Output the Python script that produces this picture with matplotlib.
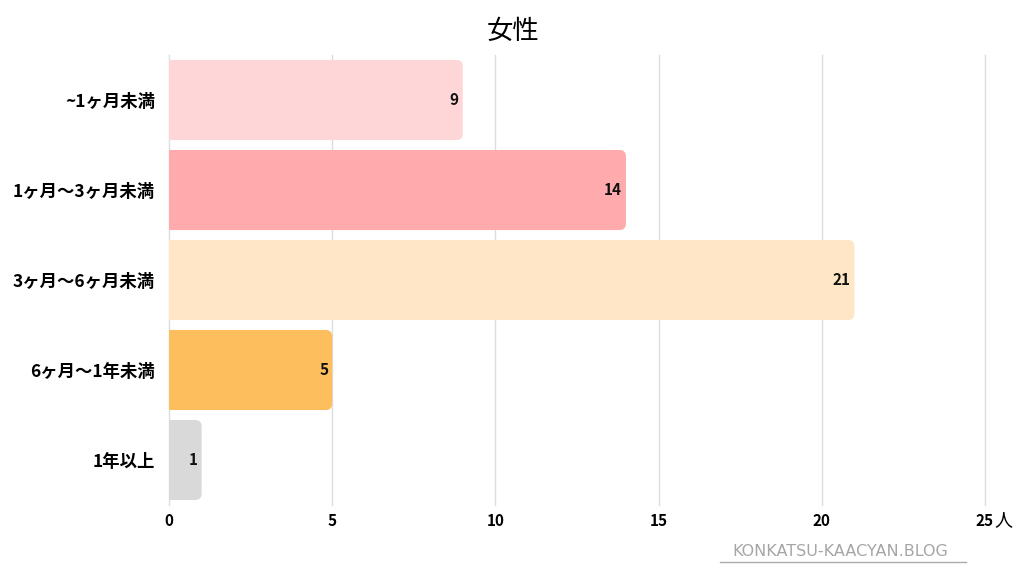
import numpy as np
import matplotlib.pyplot as plt
from matplotlib.patches import FancyBboxPatch

plt.rcParams['font.family'] = ['Noto Sans CJK JP', 'DejaVu Sans']

categories = ['~1ヶ月未満', '1ヶ月～3ヶ月未満', '3ヶ月～6ヶ月未満', '6ヶ月～1年未満', '1年以上']
counts = [9, 14, 21, 5, 1]
colors = ['#FFD6D7', '#FFABAE', '#FFE6C6', '#FDBE5D', '#D9D9D9']
xticks = [0, 5, 10, 15, 20, 25]

fig = plt.figure(figsize=(10.24, 5.76), dpi=100)
ax = fig.add_axes([169/1024, 1-505/576, 816/1024, 450/576])

height = 0.89
rad_x = 0.2                      # rounding in x data units
aspect = (1/90) / (1/32.64)      # y-units per x-unit in pixels

for i, (v, c) in enumerate(zip(counts, colors)):
    y0 = i - height/2
    # square left edge, rounded right edge
    ax.barh(i, max(v - rad_x, 0), left=0, height=height, color=c, zorder=2)
    p = FancyBboxPatch((0, y0), v, height,
                       boxstyle=f"round,pad=0,rounding_size={rad_x}",
                       mutation_aspect=aspect, facecolor=c, edgecolor='none', zorder=2)
    ax.add_patch(p)
    ax.text(v - 0.12, i, str(v), ha='right', va='center', fontsize=11,
            fontweight='bold', color='#111111', zorder=3)

ax.set_xlim(0, 25)
ax.set_ylim(4.5, -0.5)
ax.set_yticks(range(len(categories)))
ax.set_yticklabels(categories, fontsize=12.5, fontweight='bold')
ax.set_xticks(xticks)
ax.set_xticklabels([str(t) for t in xticks], fontsize=11, fontweight='bold')
ax.tick_params(axis='both', length=0)
ax.tick_params(axis='y', pad=10)
ax.tick_params(axis='x', pad=6)
for s in ax.spines.values():
    s.set_visible(False)
ax.grid(axis='x', color='#DDDDDD', lw=1, zorder=0)
for gl in ax.get_xgridlines():
    gl.set_clip_on(False)
ax.set_axisbelow(True)

fig.text(1003/1024, 1-520/576, '人', ha='center', va='center', fontsize=13)
fig.text(513/1024, 1-31/576, '女性', ha='center', va='center', fontsize=19)
fig.text(840/1024, 1-552/576, 'KONKATSU-KAACYAN.BLOG', ha='center', va='center',
         fontsize=11.5, color='#A6A6A6', family='DejaVu Sans')
fig.add_artist(plt.Line2D([720/1024, 966/1024], [1-562/576, 1-562/576],
                          color='#AAAAAA', lw=1))

fig.savefig('out.png', dpi=100)
